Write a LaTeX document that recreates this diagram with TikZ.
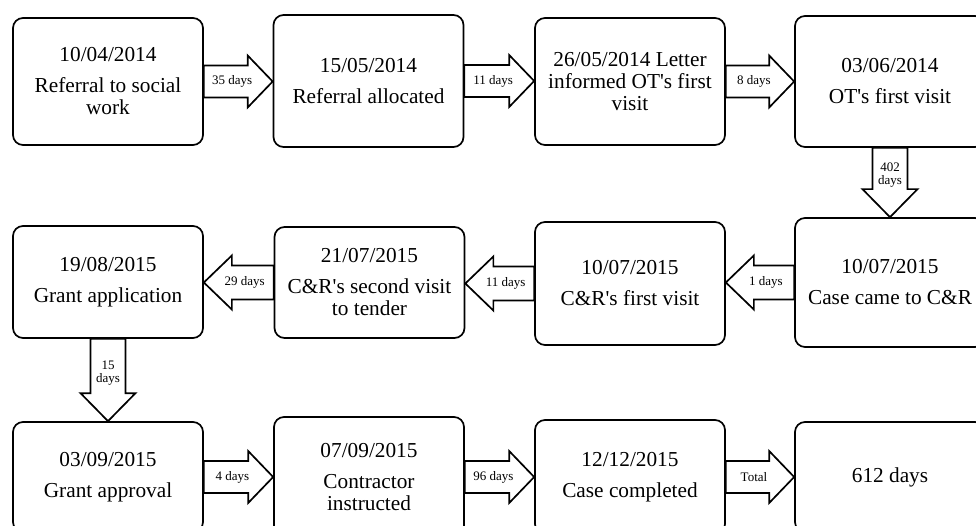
\documentclass[tikz,border=0pt]{standalone}
\usepackage{fontspec}
\setmainfont{Liberation Serif}
\usetikzlibrary{calc}
\newcommand\ap{\textquotesingle}
\tikzset{
  stage/.style={draw, line width=1.7pt, rounded corners=10pt, fill=white,
    minimum width=190pt, align=center, inner sep=0pt,
    font=\fontsize{21.3}{22}\selectfont},
  blockarrow/.style={draw, line width=1.7pt, fill=white, line join=miter},
  lab/.style={font=\fontsize{13}{13}\selectfont, inner sep=0pt, align=center}
}
\newcommand\harrowR[3]{%
  \draw[blockarrow] let \p1=(#1.east), \p2=(#2.west) in
    (\x1,\y1+16pt) -- (\x2-25pt,\y1+16pt) -- (\x2-25pt,\y1+26pt) -- (\x2,\y1)
    -- (\x2-25pt,\y1-26pt) -- (\x2-25pt,\y1-16pt) -- (\x1,\y1-16pt) -- cycle
    node[lab] at ({(\x1+\x2-12pt)/2},\y1) {#3};}
\newcommand\harrowL[3]{%
  \draw[blockarrow] let \p1=(#1.west), \p2=(#2.east) in
    (\x1,\y1+17pt) -- (\x2+28pt,\y1+17pt) -- (\x2+28pt,\y1+27pt) -- (\x2,\y1)
    -- (\x2+28pt,\y1-27pt) -- (\x2+28pt,\y1-17pt) -- (\x1,\y1-17pt) -- cycle
    node[lab] at ({(\x1+\x2+12pt)/2},\y1) {#3};}
\newcommand\varrow[3]{%
  \draw[blockarrow] let \p1=(#1.south), \p2=(#2.north) in
    (\x1-17.5pt,\y1) -- (\x1-17.5pt,\y2+28pt) -- (\x1-27.5pt,\y2+28pt) -- (\x1,\y2)
    -- (\x1+27.5pt,\y2+28pt) -- (\x1+17.5pt,\y2+28pt) -- (\x1+17.5pt,\y1) -- cycle
    node[lab] at (\x1,{(\y1+\y2+14pt)/2}) {#3};}
\begin{document}
\begin{tikzpicture}[x=1pt,y=-1pt]
\useasboundingbox (0,0) rectangle (976,526);
\clip (0,0) rectangle (976,526);
% row 1
\node[stage, minimum height=127pt] (b1) at (108,81.5) {10/04/2014\\[9pt]Referral to social\\work};
\node[stage, minimum height=132pt] (b2) at (368.5,81) {15/05/2014\\[9pt]Referral allocated};
\node[stage, minimum height=127pt] (b3) at (630,81.5) {26/05/2014 Letter\\informed OT\ap s first\\visit};
\node[stage, minimum height=131pt] (b4) at (890,81.5) {03/06/2014\\[9pt]OT\ap s first visit};
% row 2
\node[stage, minimum height=129pt] (b5) at (890,282.5) {10/07/2015\\[9pt]Case came to C\&R};
\node[stage, minimum height=123pt] (b6) at (630,283.5) {10/07/2015\\[9pt]C\&R\ap s first visit};
\node[stage, minimum height=111pt] (b7) at (369.5,282.5) {21/07/2015\\[9pt]C\&R\ap s second visit\\to tender};
\node[stage, minimum height=112pt] (b8) at (108,282) {19/08/2015\\[9pt]Grant application};
% row 3
\node[stage, minimum height=110pt] (b9) at (108,477) {03/09/2015\\[9pt]Grant approval};
\node[stage, minimum height=120pt] (b10) at (369,477) {07/09/2015\\[9pt]Contractor\\instructed};
\node[stage, minimum height=114pt] (b11) at (630,477) {12/12/2015\\[9pt]Case completed};
\node[stage, minimum height=110pt] (b12) at (890,477) {612 days};
% arrows
\harrowR{b1}{b2}{35 days}
\harrowR{b2}{b3}{11 days}
\harrowR{b3}{b4}{8 days}
\varrow{b4}{b5}{402\\days}
\harrowL{b5}{b6}{1 days}
\harrowL{b6}{b7}{11 days}
\harrowL{b7}{b8}{29 days}
\varrow{b8}{b9}{15\\days}
\harrowR{b9}{b10}{4 days}
\harrowR{b10}{b11}{96 days}
\harrowR{b11}{b12}{Total}
\end{tikzpicture}
\end{document}
